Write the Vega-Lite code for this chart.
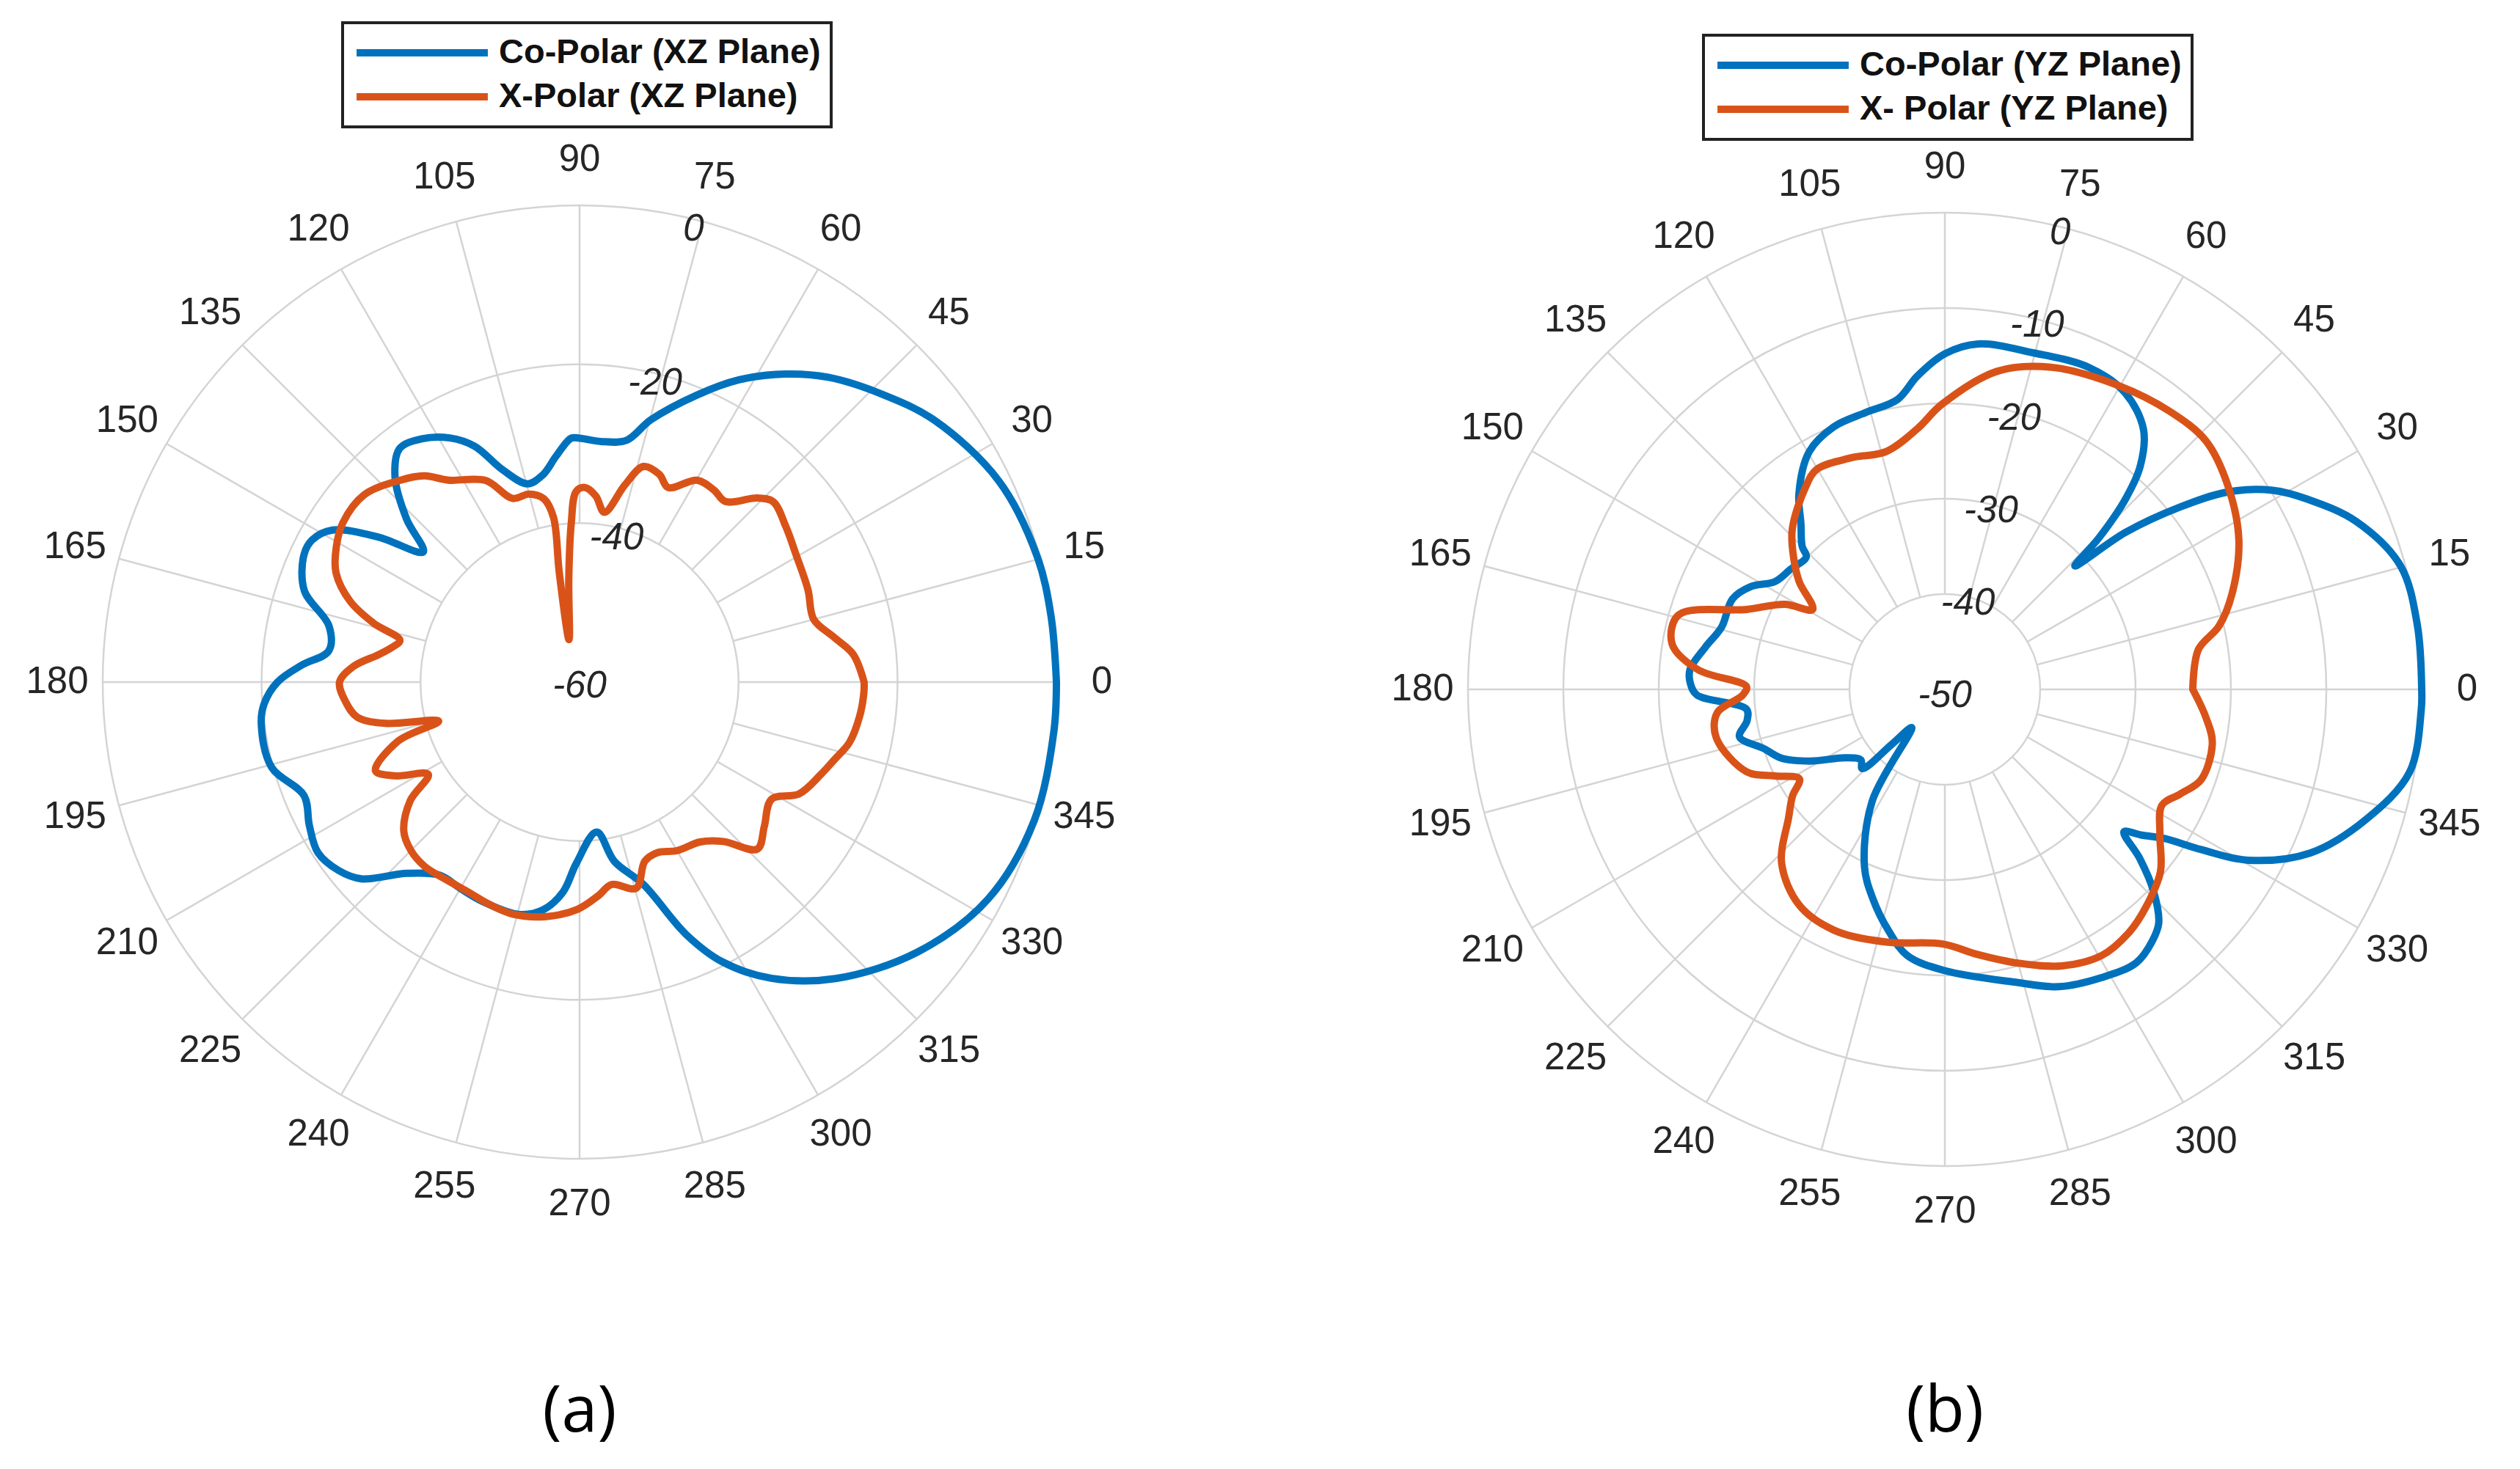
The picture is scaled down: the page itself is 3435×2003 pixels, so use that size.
{
  "$schema": "https://vega.github.io/schema/vega-lite/v6.json",
  "padding": {"left": 0, "top": 0, "right": 0, "bottom": 40},
  "background": "white",
  "spacing": 287,
  "config": {
    "font": "Liberation Sans",
    "view": {"stroke": null},
    "legend": {"strokeWidth": 4}
  },
  "datasets": {
    "angles": [
      {"ang": 0}, {"ang": 15}, {"ang": 30}, {"ang": 45}, {"ang": 60}, {"ang": 75},
      {"ang": 90}, {"ang": 105}, {"ang": 120}, {"ang": 135}, {"ang": 150}, {"ang": 165},
      {"ang": 180}, {"ang": 195}, {"ang": 210}, {"ang": 225}, {"ang": 240}, {"ang": 255},
      {"ang": 270}, {"ang": 285}, {"ang": 300}, {"ang": 315}, {"ang": 330}, {"ang": 345}
    ],
    "ringsA": [
      {"db": -60, "lab": "-60"}, {"db": -40, "lab": "-40"}, {"db": -20, "lab": "-20"}, {"db": 0, "lab": "0"}
    ],
    "ringsB": [
      {"db": -50, "lab": "-50"}, {"db": -40, "lab": "-40"}, {"db": -30, "lab": "-30"},
      {"db": -20, "lab": "-20"}, {"db": -10, "lab": "-10"}, {"db": 0, "lab": "0"}
    ],
    "curvesA": [
      {"series": "Co-Polar (XZ Plane)", "ang": 0, "db": 0},
      {"series": "Co-Polar (XZ Plane)", "ang": 8, "db": -0.1},
      {"series": "Co-Polar (XZ Plane)", "ang": 15.5, "db": -0.3},
      {"series": "Co-Polar (XZ Plane)", "ang": 25.7, "db": -1.5},
      {"series": "Co-Polar (XZ Plane)", "ang": 36.4, "db": -4.5},
      {"series": "Co-Polar (XZ Plane)", "ang": 43.7, "db": -7.5},
      {"series": "Co-Polar (XZ Plane)", "ang": 50.8, "db": -10.5},
      {"series": "Co-Polar (XZ Plane)", "ang": 56.3, "db": -13.4},
      {"series": "Co-Polar (XZ Plane)", "ang": 62.2, "db": -17},
      {"series": "Co-Polar (XZ Plane)", "ang": 67.8, "db": -21},
      {"series": "Co-Polar (XZ Plane)", "ang": 74.8, "db": -25.8},
      {"series": "Co-Polar (XZ Plane)", "ang": 79, "db": -29},
      {"series": "Co-Polar (XZ Plane)", "ang": 85, "db": -29.6},
      {"series": "Co-Polar (XZ Plane)", "ang": 90, "db": -29.3},
      {"series": "Co-Polar (XZ Plane)", "ang": 92, "db": -29.3},
      {"series": "Co-Polar (XZ Plane)", "ang": 95.9, "db": -31.4},
      {"series": "Co-Polar (XZ Plane)", "ang": 100, "db": -33.5},
      {"series": "Co-Polar (XZ Plane)", "ang": 104.7, "db": -34.2},
      {"series": "Co-Polar (XZ Plane)", "ang": 109.9, "db": -31.6},
      {"series": "Co-Polar (XZ Plane)", "ang": 114, "db": -27.5},
      {"series": "Co-Polar (XZ Plane)", "ang": 118, "db": -25.2},
      {"series": "Co-Polar (XZ Plane)", "ang": 123, "db": -23.5},
      {"series": "Co-Polar (XZ Plane)", "ang": 127.6, "db": -22.9},
      {"series": "Co-Polar (XZ Plane)", "ang": 132, "db": -25.3},
      {"series": "Co-Polar (XZ Plane)", "ang": 136.7, "db": -30.1},
      {"series": "Co-Polar (XZ Plane)", "ang": 140.2, "db": -34.4},
      {"series": "Co-Polar (XZ Plane)", "ang": 144.2, "db": -28.8},
      {"series": "Co-Polar (XZ Plane)", "ang": 148.4, "db": -23.5},
      {"series": "Co-Polar (XZ Plane)", "ang": 152, "db": -21.9},
      {"series": "Co-Polar (XZ Plane)", "ang": 155.2, "db": -21.8},
      {"series": "Co-Polar (XZ Plane)", "ang": 161.6, "db": -23.5},
      {"series": "Co-Polar (XZ Plane)", "ang": 167.4, "db": -27.7},
      {"series": "Co-Polar (XZ Plane)", "ang": 172.9, "db": -28.2},
      {"series": "Co-Polar (XZ Plane)", "ang": 176.5, "db": -25},
      {"series": "Co-Polar (XZ Plane)", "ang": 180, "db": -22},
      {"series": "Co-Polar (XZ Plane)", "ang": 184, "db": -20.2},
      {"series": "Co-Polar (XZ Plane)", "ang": 187.6, "db": -19.6},
      {"series": "Co-Polar (XZ Plane)", "ang": 195.5, "db": -19.8},
      {"series": "Co-Polar (XZ Plane)", "ang": 202.4, "db": -22.5},
      {"series": "Co-Polar (XZ Plane)", "ang": 208, "db": -21.5},
      {"series": "Co-Polar (XZ Plane)", "ang": 213.1, "db": -20.7},
      {"series": "Co-Polar (XZ Plane)", "ang": 218, "db": -21.5},
      {"series": "Co-Polar (XZ Plane)", "ang": 222, "db": -23},
      {"series": "Co-Polar (XZ Plane)", "ang": 228, "db": -27.6},
      {"series": "Co-Polar (XZ Plane)", "ang": 234.2, "db": -30},
      {"series": "Co-Polar (XZ Plane)", "ang": 240, "db": -30},
      {"series": "Co-Polar (XZ Plane)", "ang": 246.4, "db": -29.8},
      {"series": "Co-Polar (XZ Plane)", "ang": 255.6, "db": -29.8},
      {"series": "Co-Polar (XZ Plane)", "ang": 261, "db": -31},
      {"series": "Co-Polar (XZ Plane)", "ang": 265.5, "db": -33.5},
      {"series": "Co-Polar (XZ Plane)", "ang": 269, "db": -37.2},
      {"series": "Co-Polar (XZ Plane)", "ang": 276.5, "db": -41},
      {"series": "Co-Polar (XZ Plane)", "ang": 281, "db": -37},
      {"series": "Co-Polar (XZ Plane)", "ang": 287.5, "db": -33.3},
      {"series": "Co-Polar (XZ Plane)", "ang": 292.9, "db": -25.5},
      {"series": "Co-Polar (XZ Plane)", "ang": 297, "db": -20.5},
      {"series": "Co-Polar (XZ Plane)", "ang": 302.9, "db": -15.6},
      {"series": "Co-Polar (XZ Plane)", "ang": 310.8, "db": -10.7},
      {"series": "Co-Polar (XZ Plane)", "ang": 321.3, "db": -5.6},
      {"series": "Co-Polar (XZ Plane)", "ang": 332, "db": -1.8},
      {"series": "Co-Polar (XZ Plane)", "ang": 343, "db": -0.2},
      {"series": "Co-Polar (XZ Plane)", "ang": 354, "db": 0},
      {"series": "Co-Polar (XZ Plane)", "ang": 360, "db": 0},
      {"series": "X-Polar (XZ Plane)", "ang": 0, "db": -24.2},
      {"series": "X-Polar (XZ Plane)", "ang": 5.8, "db": -25.4},
      {"series": "X-Polar (XZ Plane)", "ang": 10, "db": -27.5},
      {"series": "X-Polar (XZ Plane)", "ang": 15, "db": -29.5},
      {"series": "X-Polar (XZ Plane)", "ang": 22, "db": -29},
      {"series": "X-Polar (XZ Plane)", "ang": 30.4, "db": -28.4},
      {"series": "X-Polar (XZ Plane)", "ang": 37, "db": -27.5},
      {"series": "X-Polar (XZ Plane)", "ang": 43, "db": -26.7},
      {"series": "X-Polar (XZ Plane)", "ang": 46, "db": -27.8},
      {"series": "X-Polar (XZ Plane)", "ang": 51.1, "db": -30.8},
      {"series": "X-Polar (XZ Plane)", "ang": 55, "db": -30.5},
      {"series": "X-Polar (XZ Plane)", "ang": 59.8, "db": -30.6},
      {"series": "X-Polar (XZ Plane)", "ang": 65.5, "db": -33.1},
      {"series": "X-Polar (XZ Plane)", "ang": 69, "db": -32},
      {"series": "X-Polar (XZ Plane)", "ang": 73.5, "db": -31.7},
      {"series": "X-Polar (XZ Plane)", "ang": 77, "db": -34.5},
      {"series": "X-Polar (XZ Plane)", "ang": 81.7, "db": -38.4},
      {"series": "X-Polar (XZ Plane)", "ang": 85, "db": -36.5},
      {"series": "X-Polar (XZ Plane)", "ang": 88.4, "db": -35.5},
      {"series": "X-Polar (XZ Plane)", "ang": 91, "db": -36},
      {"series": "X-Polar (XZ Plane)", "ang": 93, "db": -40},
      {"series": "X-Polar (XZ Plane)", "ang": 96, "db": -47},
      {"series": "X-Polar (XZ Plane)", "ang": 104, "db": -54.5},
      {"series": "X-Polar (XZ Plane)", "ang": 100.5, "db": -46},
      {"series": "X-Polar (XZ Plane)", "ang": 99, "db": -39},
      {"series": "X-Polar (XZ Plane)", "ang": 101, "db": -36.5},
      {"series": "X-Polar (XZ Plane)", "ang": 105, "db": -35.5},
      {"series": "X-Polar (XZ Plane)", "ang": 110, "db": -35.4},
      {"series": "X-Polar (XZ Plane)", "ang": 115, "db": -32},
      {"series": "X-Polar (XZ Plane)", "ang": 123, "db": -29.7},
      {"series": "X-Polar (XZ Plane)", "ang": 127, "db": -27.5},
      {"series": "X-Polar (XZ Plane)", "ang": 131.7, "db": -26},
      {"series": "X-Polar (XZ Plane)", "ang": 138.9, "db": -24.1},
      {"series": "X-Polar (XZ Plane)", "ang": 146.1, "db": -24.1},
      {"series": "X-Polar (XZ Plane)", "ang": 151, "db": -25},
      {"series": "X-Polar (XZ Plane)", "ang": 155.8, "db": -26.4},
      {"series": "X-Polar (XZ Plane)", "ang": 160.6, "db": -29.4},
      {"series": "X-Polar (XZ Plane)", "ang": 164, "db": -33},
      {"series": "X-Polar (XZ Plane)", "ang": 166.9, "db": -36.8},
      {"series": "X-Polar (XZ Plane)", "ang": 169.5, "db": -36},
      {"series": "X-Polar (XZ Plane)", "ang": 172.2, "db": -34.5},
      {"series": "X-Polar (XZ Plane)", "ang": 176, "db": -31.5},
      {"series": "X-Polar (XZ Plane)", "ang": 180, "db": -29.8},
      {"series": "X-Polar (XZ Plane)", "ang": 185, "db": -30.5},
      {"series": "X-Polar (XZ Plane)", "ang": 189, "db": -31.7},
      {"series": "X-Polar (XZ Plane)", "ang": 192, "db": -35},
      {"series": "X-Polar (XZ Plane)", "ang": 195.5, "db": -41.6},
      {"series": "X-Polar (XZ Plane)", "ang": 198, "db": -36},
      {"series": "X-Polar (XZ Plane)", "ang": 203.5, "db": -32},
      {"series": "X-Polar (XZ Plane)", "ang": 207, "db": -34},
      {"series": "X-Polar (XZ Plane)", "ang": 211.4, "db": -37.7},
      {"series": "X-Polar (XZ Plane)", "ang": 215, "db": -34},
      {"series": "X-Polar (XZ Plane)", "ang": 220.3, "db": -31},
      {"series": "X-Polar (XZ Plane)", "ang": 225, "db": -30},
      {"series": "X-Polar (XZ Plane)", "ang": 230, "db": -29.7},
      {"series": "X-Polar (XZ Plane)", "ang": 236, "db": -30},
      {"series": "X-Polar (XZ Plane)", "ang": 241.8, "db": -30.1},
      {"series": "X-Polar (XZ Plane)", "ang": 248, "db": -29.8},
      {"series": "X-Polar (XZ Plane)", "ang": 254.1, "db": -29.6},
      {"series": "X-Polar (XZ Plane)", "ang": 262, "db": -30.2},
      {"series": "X-Polar (XZ Plane)", "ang": 269.5, "db": -31.4},
      {"series": "X-Polar (XZ Plane)", "ang": 275, "db": -33},
      {"series": "X-Polar (XZ Plane)", "ang": 279, "db": -34.2},
      {"series": "X-Polar (XZ Plane)", "ang": 285.4, "db": -33.1},
      {"series": "X-Polar (XZ Plane)", "ang": 290, "db": -36},
      {"series": "X-Polar (XZ Plane)", "ang": 294.6, "db": -36.4},
      {"series": "X-Polar (XZ Plane)", "ang": 300, "db": -35.5},
      {"series": "X-Polar (XZ Plane)", "ang": 307, "db": -34.8},
      {"series": "X-Polar (XZ Plane)", "ang": 312, "db": -33},
      {"series": "X-Polar (XZ Plane)", "ang": 316.8, "db": -29.3},
      {"series": "X-Polar (XZ Plane)", "ang": 322, "db": -30.5},
      {"series": "X-Polar (XZ Plane)", "ang": 328.6, "db": -31.7},
      {"series": "X-Polar (XZ Plane)", "ang": 333, "db": -29},
      {"series": "X-Polar (XZ Plane)", "ang": 339, "db": -27.5},
      {"series": "X-Polar (XZ Plane)", "ang": 343, "db": -26.5},
      {"series": "X-Polar (XZ Plane)", "ang": 347.4, "db": -25.2},
      {"series": "X-Polar (XZ Plane)", "ang": 353, "db": -24.5},
      {"series": "X-Polar (XZ Plane)", "ang": 357.9, "db": -24.2},
      {"series": "X-Polar (XZ Plane)", "ang": 360, "db": -24.2}
    ],
    "curvesB": [
      {"series": "Co-Polar (YZ Plane)", "ang": 0, "db": 0},
      {"series": "Co-Polar (YZ Plane)", "ang": 7.8, "db": 0},
      {"series": "Co-Polar (YZ Plane)", "ang": 15.2, "db": -0.5},
      {"series": "Co-Polar (YZ Plane)", "ang": 22.2, "db": -3.4},
      {"series": "Co-Polar (YZ Plane)", "ang": 27.6, "db": -7},
      {"series": "Co-Polar (YZ Plane)", "ang": 31.3, "db": -9.8},
      {"series": "Co-Polar (YZ Plane)", "ang": 34.9, "db": -13.8},
      {"series": "Co-Polar (YZ Plane)", "ang": 37.8, "db": -18.8},
      {"series": "Co-Polar (YZ Plane)", "ang": 41, "db": -24.9},
      {"series": "Co-Polar (YZ Plane)", "ang": 43.5, "db": -31.2},
      {"series": "Co-Polar (YZ Plane)", "ang": 44.5, "db": -27.4},
      {"series": "Co-Polar (YZ Plane)", "ang": 46.5, "db": -22.5},
      {"series": "Co-Polar (YZ Plane)", "ang": 48.8, "db": -18.9},
      {"series": "Co-Polar (YZ Plane)", "ang": 52.6, "db": -15.7},
      {"series": "Co-Polar (YZ Plane)", "ang": 58.7, "db": -13.6},
      {"series": "Co-Polar (YZ Plane)", "ang": 65.9, "db": -13},
      {"series": "Co-Polar (YZ Plane)", "ang": 75.2, "db": -13.5},
      {"series": "Co-Polar (YZ Plane)", "ang": 84.5, "db": -13.6},
      {"series": "Co-Polar (YZ Plane)", "ang": 90, "db": -14.8},
      {"series": "Co-Polar (YZ Plane)", "ang": 95, "db": -17},
      {"series": "Co-Polar (YZ Plane)", "ang": 99.3, "db": -19.2},
      {"series": "Co-Polar (YZ Plane)", "ang": 106, "db": -19.8},
      {"series": "Co-Polar (YZ Plane)", "ang": 112.9, "db": -20.1},
      {"series": "Co-Polar (YZ Plane)", "ang": 119.7, "db": -21.3},
      {"series": "Co-Polar (YZ Plane)", "ang": 126.7, "db": -24.4},
      {"series": "Co-Polar (YZ Plane)", "ang": 131, "db": -27},
      {"series": "Co-Polar (YZ Plane)", "ang": 134.9, "db": -28.8},
      {"series": "Co-Polar (YZ Plane)", "ang": 136.3, "db": -29.9},
      {"series": "Co-Polar (YZ Plane)", "ang": 142, "db": -29.5},
      {"series": "Co-Polar (YZ Plane)", "ang": 147.6, "db": -28.9},
      {"series": "Co-Polar (YZ Plane)", "ang": 152, "db": -27},
      {"series": "Co-Polar (YZ Plane)", "ang": 156.9, "db": -25.8},
      {"series": "Co-Polar (YZ Plane)", "ang": 164.4, "db": -25.7},
      {"series": "Co-Polar (YZ Plane)", "ang": 170, "db": -24.5},
      {"series": "Co-Polar (YZ Plane)", "ang": 175.5, "db": -23.2},
      {"series": "Co-Polar (YZ Plane)", "ang": 178.6, "db": -23.3},
      {"series": "Co-Polar (YZ Plane)", "ang": 181.3, "db": -24},
      {"series": "Co-Polar (YZ Plane)", "ang": 185.7, "db": -29.1},
      {"series": "Co-Polar (YZ Plane)", "ang": 189, "db": -29},
      {"series": "Co-Polar (YZ Plane)", "ang": 193, "db": -27.9},
      {"series": "Co-Polar (YZ Plane)", "ang": 198, "db": -30},
      {"series": "Co-Polar (YZ Plane)", "ang": 202.8, "db": -31.4},
      {"series": "Co-Polar (YZ Plane)", "ang": 208, "db": -34},
      {"series": "Co-Polar (YZ Plane)", "ang": 214.4, "db": -37.3},
      {"series": "Co-Polar (YZ Plane)", "ang": 220, "db": -38.5},
      {"series": "Co-Polar (YZ Plane)", "ang": 223.8, "db": -38},
      {"series": "Co-Polar (YZ Plane)", "ang": 226, "db": -42},
      {"series": "Co-Polar (YZ Plane)", "ang": 229, "db": -44.7},
      {"series": "Co-Polar (YZ Plane)", "ang": 237, "db": -36},
      {"series": "Co-Polar (YZ Plane)", "ang": 245.6, "db": -29.6},
      {"series": "Co-Polar (YZ Plane)", "ang": 251, "db": -26.8},
      {"series": "Co-Polar (YZ Plane)", "ang": 256.9, "db": -24},
      {"series": "Co-Polar (YZ Plane)", "ang": 262, "db": -21.8},
      {"series": "Co-Polar (YZ Plane)", "ang": 270, "db": -20.5},
      {"series": "Co-Polar (YZ Plane)", "ang": 283.6, "db": -18.4},
      {"series": "Co-Polar (YZ Plane)", "ang": 291, "db": -16.6},
      {"series": "Co-Polar (YZ Plane)", "ang": 298.5, "db": -15.6},
      {"series": "Co-Polar (YZ Plane)", "ang": 305, "db": -15},
      {"series": "Co-Polar (YZ Plane)", "ang": 309.5, "db": -15.8},
      {"series": "Co-Polar (YZ Plane)", "ang": 312.5, "db": -16.8},
      {"series": "Co-Polar (YZ Plane)", "ang": 316, "db": -19.6},
      {"series": "Co-Polar (YZ Plane)", "ang": 319.1, "db": -23},
      {"series": "Co-Polar (YZ Plane)", "ang": 321.5, "db": -26},
      {"series": "Co-Polar (YZ Plane)", "ang": 323.5, "db": -24.3},
      {"series": "Co-Polar (YZ Plane)", "ang": 325.8, "db": -22.2},
      {"series": "Co-Polar (YZ Plane)", "ang": 328, "db": -18.3},
      {"series": "Co-Polar (YZ Plane)", "ang": 330.6, "db": -13.5},
      {"series": "Co-Polar (YZ Plane)", "ang": 335.9, "db": -8},
      {"series": "Co-Polar (YZ Plane)", "ang": 342.8, "db": -3.8},
      {"series": "Co-Polar (YZ Plane)", "ang": 349.9, "db": -0.5},
      {"series": "Co-Polar (YZ Plane)", "ang": 357.6, "db": 0},
      {"series": "Co-Polar (YZ Plane)", "ang": 360, "db": 0},
      {"series": "X- Polar (YZ Plane)", "ang": 0, "db": -24},
      {"series": "X- Polar (YZ Plane)", "ang": 8.9, "db": -23.1},
      {"series": "X- Polar (YZ Plane)", "ang": 13, "db": -20.5},
      {"series": "X- Polar (YZ Plane)", "ang": 18.3, "db": -18.3},
      {"series": "X- Polar (YZ Plane)", "ang": 27, "db": -15.4},
      {"series": "X- Polar (YZ Plane)", "ang": 35.9, "db": -13.4},
      {"series": "X- Polar (YZ Plane)", "ang": 43.6, "db": -12.2},
      {"series": "X- Polar (YZ Plane)", "ang": 51.1, "db": -12.5},
      {"series": "X- Polar (YZ Plane)", "ang": 60.3, "db": -13.3},
      {"series": "X- Polar (YZ Plane)", "ang": 71.6, "db": -14.4},
      {"series": "X- Polar (YZ Plane)", "ang": 80.7, "db": -16.2},
      {"series": "X- Polar (YZ Plane)", "ang": 90.6, "db": -20.1},
      {"series": "X- Polar (YZ Plane)", "ang": 96, "db": -22.5},
      {"series": "X- Polar (YZ Plane)", "ang": 103.8, "db": -24.3},
      {"series": "X- Polar (YZ Plane)", "ang": 112, "db": -23.8},
      {"series": "X- Polar (YZ Plane)", "ang": 120.2, "db": -23.3},
      {"series": "X- Polar (YZ Plane)", "ang": 124.4, "db": -24.2},
      {"series": "X- Polar (YZ Plane)", "ang": 133.6, "db": -26.8},
      {"series": "X- Polar (YZ Plane)", "ang": 139, "db": -29},
      {"series": "X- Polar (YZ Plane)", "ang": 143.5, "db": -31},
      {"series": "X- Polar (YZ Plane)", "ang": 148.8, "db": -33.8},
      {"series": "X- Polar (YZ Plane)", "ang": 152, "db": -31},
      {"series": "X- Polar (YZ Plane)", "ang": 158, "db": -27.6},
      {"series": "X- Polar (YZ Plane)", "ang": 164.4, "db": -21},
      {"series": "X- Polar (YZ Plane)", "ang": 170.5, "db": -21},
      {"series": "X- Polar (YZ Plane)", "ang": 175.4, "db": -24},
      {"series": "X- Polar (YZ Plane)", "ang": 179.2, "db": -29.2},
      {"series": "X- Polar (YZ Plane)", "ang": 181.6, "db": -28.8},
      {"series": "X- Polar (YZ Plane)", "ang": 185.9, "db": -26},
      {"series": "X- Polar (YZ Plane)", "ang": 191.9, "db": -25.5},
      {"series": "X- Polar (YZ Plane)", "ang": 202.6, "db": -27.5},
      {"series": "X- Polar (YZ Plane)", "ang": 207, "db": -30},
      {"series": "X- Polar (YZ Plane)", "ang": 211.6, "db": -32.1},
      {"series": "X- Polar (YZ Plane)", "ang": 215, "db": -30.5},
      {"series": "X- Polar (YZ Plane)", "ang": 219.4, "db": -28.8},
      {"series": "X- Polar (YZ Plane)", "ang": 226.8, "db": -25},
      {"series": "X- Polar (YZ Plane)", "ang": 236, "db": -22.7},
      {"series": "X- Polar (YZ Plane)", "ang": 245.3, "db": -22.2},
      {"series": "X- Polar (YZ Plane)", "ang": 257, "db": -22.8},
      {"series": "X- Polar (YZ Plane)", "ang": 269.5, "db": -23.3},
      {"series": "X- Polar (YZ Plane)", "ang": 277, "db": -22},
      {"series": "X- Polar (YZ Plane)", "ang": 284.9, "db": -20.3},
      {"series": "X- Polar (YZ Plane)", "ang": 293, "db": -18.5},
      {"series": "X- Polar (YZ Plane)", "ang": 300.5, "db": -17.6},
      {"series": "X- Polar (YZ Plane)", "ang": 307, "db": -18},
      {"series": "X- Polar (YZ Plane)", "ang": 312.6, "db": -18.9},
      {"series": "X- Polar (YZ Plane)", "ang": 319.8, "db": -20.4},
      {"series": "X- Polar (YZ Plane)", "ang": 326, "db": -22.8},
      {"series": "X- Polar (YZ Plane)", "ang": 331.9, "db": -24.2},
      {"series": "X- Polar (YZ Plane)", "ang": 336, "db": -23},
      {"series": "X- Polar (YZ Plane)", "ang": 340.6, "db": -21.5},
      {"series": "X- Polar (YZ Plane)", "ang": 348.7, "db": -21.4},
      {"series": "X- Polar (YZ Plane)", "ang": 354, "db": -22.5},
      {"series": "X- Polar (YZ Plane)", "ang": 360, "db": -24}
    ]
  },
  "resolve": {
    "scale": {"x": "independent", "y": "independent", "stroke": "independent"},
    "legend": {"stroke": "independent"}
  },
  "hconcat": [
    {
      "width": 1580,
      "height": 1700,
      "title": {"text": "(a)", "orient": "bottom", "offset": 182, "font": "Open Sans", "fontSize": 88, "fontWeight": "normal", "color": "#000000", "anchor": "middle"},
      "layer": [
        {
          "data": {"name": "ringsA"},
          "transform": [
            {"filter": "datum.db > -60"},
            {"calculate": "(datum.db + 60) / 60 * 650", "as": "rp"}
          ],
          "mark": {"type": "arc", "theta": 0, "theta2": 6.2832, "filled": false, "stroke": "#d4d4d4", "strokeWidth": 2.5},
          "encoding": {
            "x": {"datum": 0, "type": "quantitative", "scale": {"domain": [-790, 790], "nice": false, "zero": false}, "axis": null},
            "y": {"datum": 0, "type": "quantitative", "scale": {"domain": [-770, 930], "nice": false, "zero": false}, "axis": null},
            "radius": {"field": "rp", "type": "quantitative", "scale": null, "stack": null}
          }
        },
        {
          "data": {"name": "angles"},
          "transform": [
            {"calculate": "datum.ang * PI / 180", "as": "t"},
            {"calculate": "650 / 3 * cos(datum.t)", "as": "x1"},
            {"calculate": "650 / 3 * sin(datum.t)", "as": "y1"},
            {"calculate": "650 * cos(datum.t)", "as": "x2"},
            {"calculate": "650 * sin(datum.t)", "as": "y2"}
          ],
          "mark": {"type": "rule", "stroke": "#d4d4d4", "strokeWidth": 2.5},
          "encoding": {
            "x": {"field": "x1", "type": "quantitative", "scale": {"domain": [-790, 790], "nice": false, "zero": false}, "axis": null},
            "y": {"field": "y1", "type": "quantitative", "scale": {"domain": [-770, 930], "nice": false, "zero": false}, "axis": null},
            "x2": {"field": "x2"},
            "y2": {"field": "y2"}
          }
        },
        {
          "data": {"name": "curvesA"},
          "transform": [
            {"calculate": "datum.ang * PI / 180", "as": "t"},
            {"calculate": "max(0, (datum.db + 60) / 60 * 650)", "as": "rp"},
            {"calculate": "datum.rp * cos(datum.t)", "as": "px"},
            {"calculate": "datum.rp * sin(datum.t)", "as": "py"}
          ],
          "mark": {"type": "line", "strokeWidth": 10, "strokeJoin": "round", "strokeCap": "round", "interpolate": "catmull-rom"},
          "encoding": {
            "x": {"field": "px", "type": "quantitative", "scale": {"domain": [-790, 790], "nice": false, "zero": false}, "axis": null},
            "y": {"field": "py", "type": "quantitative", "scale": {"domain": [-770, 930], "nice": false, "zero": false}, "axis": null},
            "order": {"value": null},
            "stroke": {
              "field": "series", "type": "nominal",
              "scale": {"domain": ["Co-Polar (XZ Plane)", "X-Polar (XZ Plane)"], "range": ["#0072BD", "#D95319"]},
              "legend": {
                "title": null, "orient": "none", "legendX": 467, "legendY": 31, "direction": "vertical",
                "symbolType": "stroke", "symbolSize": 32000, "symbolStrokeWidth": 10, "clipHeight": 54,
                "labelFont": "Liberation Sans", "labelFontWeight": "bold", "labelFontSize": 47, "labelColor": "#111111",
                "labelOffset": 10, "labelLimit": 0, "padding": 14, "rowPadding": 6,
                "strokeColor": "#222222", "fillColor": "#ffffff",
                "encode": {"legend": {"strokeWidth": {"value": 4}}}
              }
            }
          }
        },
        {
          "data": {"name": "angles"},
          "transform": [
            {"calculate": "datum.ang * PI / 180", "as": "t"},
            {"calculate": "712 * cos(datum.t)", "as": "lx"},
            {"calculate": "712 * sin(datum.t)", "as": "ly"}
          ],
          "mark": {"type": "text", "font": "Liberation Sans", "fontSize": 51, "fill": "#262626", "align": "center", "baseline": "middle"},
          "encoding": {
            "x": {"field": "lx", "type": "quantitative", "scale": {"domain": [-790, 790], "nice": false, "zero": false}, "axis": null},
            "y": {"field": "ly", "type": "quantitative", "scale": {"domain": [-770, 930], "nice": false, "zero": false}, "axis": null},
            "text": {"field": "ang", "type": "nominal"}
          }
        },
        {
          "data": {"name": "ringsA"},
          "transform": [
            {"calculate": "max(0, (datum.db + 60) / 60 * 650 - 8)", "as": "rl"},
            {"calculate": "datum.rl * cos(76 * PI / 180)", "as": "lx"},
            {"calculate": "datum.rl * sin(76 * PI / 180)", "as": "ly"}
          ],
          "mark": {"type": "text", "font": "Liberation Sans", "fontSize": 51, "fontStyle": "italic", "fill": "#262626", "align": "center", "baseline": "middle", "dy": 6},
          "encoding": {
            "x": {"field": "lx", "type": "quantitative", "scale": {"domain": [-790, 790], "nice": false, "zero": false}, "axis": null},
            "y": {"field": "ly", "type": "quantitative", "scale": {"domain": [-770, 930], "nice": false, "zero": false}, "axis": null},
            "text": {"field": "lab", "type": "nominal"}
          }
        }
      ]
    },
    {
      "width": 1568,
      "height": 1700,
      "title": {"text": "(b)", "orient": "bottom", "offset": 182, "font": "Open Sans", "fontSize": 88, "fontWeight": "normal", "color": "#000000", "anchor": "middle"},
      "layer": [
        {
          "data": {"name": "ringsB"},
          "transform": [
            {"filter": "datum.db > -50"},
            {"calculate": "(datum.db + 50) / 50 * 650", "as": "rp"}
          ],
          "mark": {"type": "arc", "theta": 0, "theta2": 6.2832, "filled": false, "stroke": "#d4d4d4", "strokeWidth": 2.5},
          "encoding": {
            "x": {"datum": 0, "type": "quantitative", "scale": {"domain": [-784, 784], "nice": false, "zero": false}, "axis": null},
            "y": {"datum": 0, "type": "quantitative", "scale": {"domain": [-760, 940], "nice": false, "zero": false}, "axis": null},
            "radius": {"field": "rp", "type": "quantitative", "scale": null, "stack": null}
          }
        },
        {
          "data": {"name": "angles"},
          "transform": [
            {"calculate": "datum.ang * PI / 180", "as": "t"},
            {"calculate": "130 * cos(datum.t)", "as": "x1"},
            {"calculate": "130 * sin(datum.t)", "as": "y1"},
            {"calculate": "650 * cos(datum.t)", "as": "x2"},
            {"calculate": "650 * sin(datum.t)", "as": "y2"}
          ],
          "mark": {"type": "rule", "stroke": "#d4d4d4", "strokeWidth": 2.5},
          "encoding": {
            "x": {"field": "x1", "type": "quantitative", "scale": {"domain": [-784, 784], "nice": false, "zero": false}, "axis": null},
            "y": {"field": "y1", "type": "quantitative", "scale": {"domain": [-760, 940], "nice": false, "zero": false}, "axis": null},
            "x2": {"field": "x2"},
            "y2": {"field": "y2"}
          }
        },
        {
          "data": {"name": "curvesB"},
          "transform": [
            {"calculate": "datum.ang * PI / 180", "as": "t"},
            {"calculate": "max(0, (datum.db + 50) / 50 * 650)", "as": "rp"},
            {"calculate": "datum.rp * cos(datum.t)", "as": "px"},
            {"calculate": "datum.rp * sin(datum.t)", "as": "py"}
          ],
          "mark": {"type": "line", "strokeWidth": 10, "strokeJoin": "round", "strokeCap": "round", "interpolate": "catmull-rom"},
          "encoding": {
            "x": {"field": "px", "type": "quantitative", "scale": {"domain": [-784, 784], "nice": false, "zero": false}, "axis": null},
            "y": {"field": "py", "type": "quantitative", "scale": {"domain": [-760, 940], "nice": false, "zero": false}, "axis": null},
            "order": {"value": null},
            "stroke": {
              "field": "series", "type": "nominal",
              "scale": {"domain": ["Co-Polar (YZ Plane)", "X- Polar (YZ Plane)"], "range": ["#0072BD", "#D95319"]},
              "legend": {
                "title": null, "orient": "none", "legendX": 455, "legendY": 48, "direction": "vertical",
                "symbolType": "stroke", "symbolSize": 32000, "symbolStrokeWidth": 10, "clipHeight": 54,
                "labelFont": "Liberation Sans", "labelFontWeight": "bold", "labelFontSize": 47, "labelColor": "#111111",
                "labelOffset": 10, "labelLimit": 0, "padding": 14, "rowPadding": 6,
                "strokeColor": "#222222", "fillColor": "#ffffff",
                "encode": {"legend": {"strokeWidth": {"value": 4}}}
              }
            }
          }
        },
        {
          "data": {"name": "angles"},
          "transform": [
            {"calculate": "datum.ang * PI / 180", "as": "t"},
            {"calculate": "712 * cos(datum.t)", "as": "lx"},
            {"calculate": "712 * sin(datum.t)", "as": "ly"}
          ],
          "mark": {"type": "text", "font": "Liberation Sans", "fontSize": 51, "fill": "#262626", "align": "center", "baseline": "middle"},
          "encoding": {
            "x": {"field": "lx", "type": "quantitative", "scale": {"domain": [-784, 784], "nice": false, "zero": false}, "axis": null},
            "y": {"field": "ly", "type": "quantitative", "scale": {"domain": [-760, 940], "nice": false, "zero": false}, "axis": null},
            "text": {"field": "ang", "type": "nominal"}
          }
        },
        {
          "data": {"name": "ringsB"},
          "transform": [
            {"calculate": "max(0, (datum.db + 50) / 50 * 650)", "as": "rl"},
            {"calculate": "datum.rl * cos(76 * PI / 180)", "as": "lx"},
            {"calculate": "datum.rl * sin(76 * PI / 180)", "as": "ly"}
          ],
          "mark": {"type": "text", "font": "Liberation Sans", "fontSize": 51, "fontStyle": "italic", "fill": "#262626", "align": "center", "baseline": "middle", "dy": 9},
          "encoding": {
            "x": {"field": "lx", "type": "quantitative", "scale": {"domain": [-784, 784], "nice": false, "zero": false}, "axis": null},
            "y": {"field": "ly", "type": "quantitative", "scale": {"domain": [-760, 940], "nice": false, "zero": false}, "axis": null},
            "text": {"field": "lab", "type": "nominal"}
          }
        }
      ]
    }
  ]
}
